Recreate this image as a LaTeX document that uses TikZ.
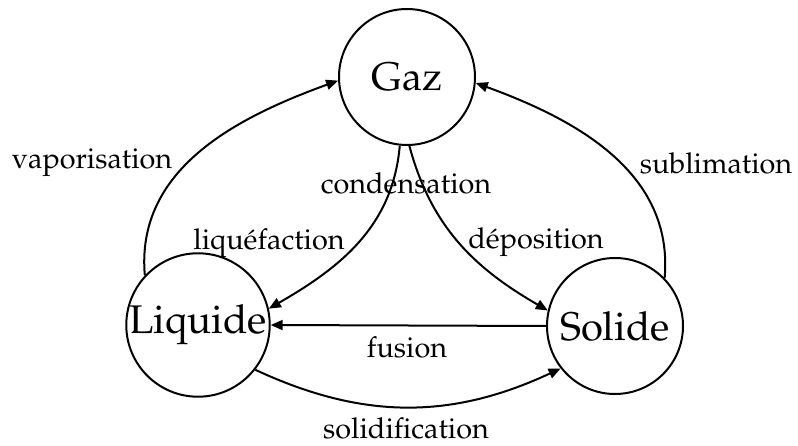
\documentclass[tikz,border=0pt]{standalone}
\IfFileExists{mathpazo.sty}{\usepackage[T1]{fontenc}\usepackage{mathpazo}}{\usepackage{fontspec}\setmainfont{Liberation Serif}}
\usetikzlibrary{arrows.meta}
\begin{document}
\begin{tikzpicture}[x=0.5pt,y=0.5pt,
  state/.style={circle,draw,line width=1pt,minimum size=68pt,inner sep=0pt,font=\fontsize{20}{24}\selectfont},
  edge/.style={line width=1pt,-{Triangle[length=6pt,width=5pt]}},
  lab/.style={inner sep=0pt,font=\fontsize{14.4}{17}\selectfont}]
\useasboundingbox (0,0) rectangle (798,445);
\node[state] (G) at (407,368) {Gaz};
\node[state] (L) at (198,120) {Liquide};
\node[state] (S) at (615,119) {Solide};
\draw[edge] (L.137) to[out=95,in=200] (G.183);
\draw[edge] (S.44) to[out=85,in=-20] (G.-5);
\draw[edge] (G.264) to[out=265,in=30] (L.13);
\draw[edge] (G.272) to[out=285,in=150] (S.167);
\draw[edge] (S.180) -- (L.0);
\draw[edge] (L.-38) to[out=-25,in=205] (S.218);
\node[lab] (lvap) at (92,282) {vaporisation};
\node[lab] (lsub) at (716,282) {sublimation};
\node[lab] (lcon) at (406,262) {condensation};
\node[lab] (lliq) at (269,202) {liqu\'efaction};
\node[lab] (ldep) at (536,203) {d\'eposition};
\node[lab] (lfus) at (407,98) {fusion};
\node[lab] (lsol) at (406,17) {solidification};
\end{tikzpicture}
\end{document}
